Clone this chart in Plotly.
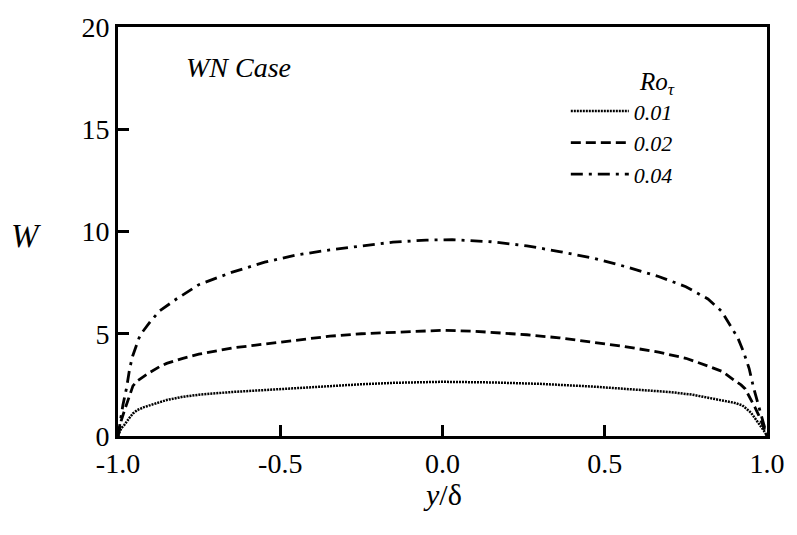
import plotly.graph_objects as go

# ---- data ----
y_01 = [-1.0, -0.995, -0.99, -0.98, -0.973, -0.965, -0.954, -0.94, -0.92, -0.903, -0.87, -0.85, -0.8, -0.75,
        -0.65, -0.55, -0.45, -0.35, -0.25, -0.15, 0.0, 0.15, 0.3, 0.46, 0.6, 0.7, 0.77, 0.84, 0.88, 0.9,
        0.924, 0.94, 0.95, 0.963, 0.975, 0.985, 0.993, 1.0]
w_01 = [0.0, 0.2, 0.38, 0.55, 0.68, 0.88, 1.1, 1.27, 1.41, 1.5, 1.66, 1.76, 1.92, 2.02,
        2.15, 2.25, 2.35, 2.45, 2.53, 2.6, 2.65, 2.62, 2.55, 2.42, 2.28, 2.15, 2.02, 1.82, 1.7, 1.62,
        1.5, 1.3, 1.15, 0.87, 0.62, 0.4, 0.2, 0.0]

y_02 = [-1.0, -0.995, -0.99, -0.98, -0.973, -0.965, -0.954, -0.94, -0.925, -0.903, -0.873, -0.85, -0.8,
        -0.751, -0.65, -0.548, -0.45, -0.347, -0.25, -0.153, 0.0, 0.1, 0.26, 0.36, 0.463, 0.56, 0.666, 0.75,
        0.818, 0.863, 0.897, 0.92, 0.933, 0.945, 0.955, 0.963, 0.975, 0.985, 0.993, 1.0]
w_02 = [0.0, 0.4, 0.75, 1.25, 1.6, 2.0, 2.45, 2.7, 2.88, 3.1, 3.38, 3.55, 3.8,
        4.0, 4.3, 4.5, 4.7, 4.88, 5.0, 5.08, 5.17, 5.12, 4.95, 4.8, 4.6, 4.38, 4.1, 3.8,
        3.42, 3.15, 2.75, 2.5, 2.3, 1.95, 1.7, 1.4, 1.0, 0.65, 0.3, 0.0]

y_04 = [-1.0, -0.993, -0.985, -0.973, -0.964, -0.955, -0.945, -0.935, -0.924, -0.9, -0.873, -0.82, -0.751,
        -0.65, -0.548, -0.45, -0.347, -0.25, -0.153, -0.05, 0.03, 0.15, 0.26, 0.36, 0.463, 0.56, 0.666,
        0.75, 0.818, 0.86, 0.888, 0.91, 0.928, 0.945, 0.958, 0.975, 0.99, 1.0]
w_04 = [0.0, 0.7, 1.5, 2.4, 3.3, 3.9, 4.4, 4.8, 5.1, 5.6, 6.1, 6.7, 7.4,
        8.0, 8.5, 8.85, 9.1, 9.3, 9.48, 9.58, 9.6, 9.5, 9.3, 9.02, 8.7, 8.3, 7.8,
        7.3, 6.7, 6.1, 5.4, 4.8, 4.1, 3.3, 2.4, 1.4, 0.5, 0.0]

series_names = ["0.01", "0.02", "0.04"]
x_tickvals = [-1.0, -0.5, 0.0, 0.5, 1.0]
x_ticktext = ["-1.0", "-0.5", "0.0", "0.5", "1.0"]
y_tickvals = [0, 5, 10, 15, 20]
y_ticktext = ["0", "5", "10", "15", "20"]

FONT = "Times New Roman"

fig = go.Figure()
styles = [
    dict(dash="2px,1px", width=2.5),
    dict(dash="10px,5px", width=2.8),
    dict(dash="12px,6px,3px,6px", width=2.8),
]
for xs, ws, name, st in zip([y_01, y_02, y_04], [w_01, w_02, w_04], series_names, styles):
    fig.add_trace(go.Scatter(
        x=xs, y=ws, mode="lines", name="<i>" + name + "</i>",
        line=dict(color="black", width=st["width"], dash=st["dash"]),
    ))

fig.update_xaxes(range=[-1, 1], tickvals=x_tickvals, ticktext=x_ticktext,
                 tickfont=dict(family=FONT, size=28, color="black"),
                 showgrid=False, zeroline=False, showline=True, linecolor="black", linewidth=3,
                 mirror=True, ticks="inside", ticklen=11, tickwidth=2.5, tickcolor="black")
fig.update_yaxes(range=[0, 20], tickvals=y_tickvals, ticktext=y_ticktext,
                 tickfont=dict(family=FONT, size=28, color="black"),
                 showgrid=False, zeroline=False, showline=True, linecolor="black", linewidth=3,
                 mirror=True, ticks="inside", ticklen=11, tickwidth=2.5, tickcolor="black")

fig.update_layout(
    width=797, height=535,
    margin=dict(l=118, r=21, t=21, b=99),
    paper_bgcolor="white", plot_bgcolor="white",
    legend=dict(
        x=0.69, y=0.925, xanchor="left", yanchor="top",
        bgcolor="rgba(0,0,0,0)",
        font=dict(family=FONT, size=22, color="black"),
        title=dict(text="<i>Ro<sub>τ</sub></i>", side="top right",
                   font=dict(family=FONT, size=25, color="black")),
        tracegroupgap=0, itemwidth=58,
    ),
    annotations=[
        dict(text="<i>WN Case</i>", x=-0.63, y=18.0, xref="x", yref="y", showarrow=False,
             xanchor="center", yanchor="middle",
             font=dict(family=FONT, size=28, color="black")),
        dict(text="<i>W</i>", x=-0.141, y=0.49, xref="paper", yref="paper", showarrow=False,
             xanchor="center", yanchor="middle",
             font=dict(family=FONT, size=33, color="black")),
        dict(text="<i>y</i>/δ", x=0.5, y=-0.142, xref="paper", yref="paper", showarrow=False,
             xanchor="center", yanchor="middle",
             font=dict(family=FONT, size=30, color="black")),
    ],
)

fig.write_html("out.html")
